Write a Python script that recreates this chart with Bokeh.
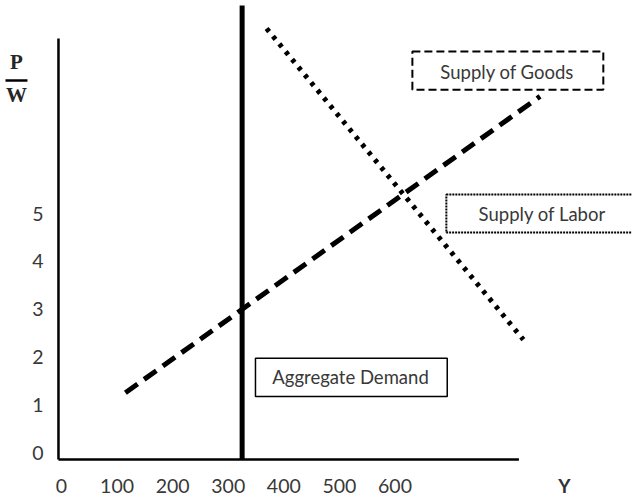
from bokeh.plotting import figure
from bokeh.models import Range1d, FixedTicker, Label, BoxAnnotation
from bokeh.embed import file_html
from bokeh.resources import INLINE

# ---- data ----
x_ticks = [0, 100, 200, 300, 400, 500, 600]
y_ticks = [0, 1, 2, 3, 4, 5]

# Aggregate Demand (vertical)
ad_x = [325, 325]
ad_y = [-0.146, 9.35]
# Supply of Goods (dashed, upward)
goods_x = [115, 861]
goods_y = [1.25, 7.45]
# Supply of Labor (dotted, downward)
labor_x = [369, 831]
labor_y = [8.87, 2.36]

# axis extents (hand-drawn axes)
yaxis_x = [-5.4, -5.4]
yaxis_y = [-0.146, 8.66]
xaxis_x = [-5.4, 823]
xaxis_y = [-0.146, -0.146]

TXT = "#383838"
FONT = "Lato"

p = figure(width=632, height=499, output_backend="svg", toolbar_location=None,
           x_range=Range1d(-109.7, 1027.3), y_range=Range1d(-0.983, 9.456),
           min_border_left=0, min_border_right=0, min_border_top=0, min_border_bottom=0,
           outline_line_color=None)
p.grid.visible = False
p.background_fill_color = "white"
p.border_fill_color = "white"

for ax in (p.xaxis[0], p.yaxis[0]):
    ax.axis_line_color = None
    ax.major_tick_line_color = None
    ax.minor_tick_line_color = None
    ax.major_tick_out = 0
    ax.major_tick_in = 0
    ax.major_label_text_font = FONT
    ax.major_label_text_font_size = "19.5px"
    ax.major_label_text_color = TXT

p.xaxis[0].ticker = FixedTicker(ticks=x_ticks)
p.yaxis[0].ticker = FixedTicker(ticks=y_ticks)
p.xaxis[0].fixed_location = -0.146
p.yaxis[0].fixed_location = -5.4
p.xaxis[0].major_label_standoff = 20
p.yaxis[0].major_label_standoff = 15

# axes lines
p.line(yaxis_x, yaxis_y, line_color="black", line_width=2.5)
p.line(xaxis_x, xaxis_y, line_color="black", line_width=2.5)

# curves
p.line(ad_x, ad_y, line_color="black", line_width=5)
p.line(goods_x, goods_y, line_color="black", line_width=5, line_dash="15 8", line_cap="butt")
p.line(labor_x, labor_y, line_color="black", line_width=5, line_dash="4 6", line_cap="butt")

# label boxes
p.add_layout(BoxAnnotation(left=631.3, right=974.8, bottom=7.59, top=8.39,
                           fill_color="white", fill_alpha=1, line_color="black", line_alpha=1,
                           line_width=2, line_dash="8 4"))
p.add_layout(BoxAnnotation(left=692.4, right=1059, bottom=4.60, top=5.40,
                           fill_color="white", fill_alpha=1, line_color="black", line_alpha=1,
                           line_width=2, line_dash="2 1"))
p.add_layout(BoxAnnotation(left=349, right=694, bottom=1.17, top=1.97,
                           fill_color="white", fill_alpha=1, line_color="black", line_alpha=1,
                           line_width=1.5))

for txt, x, y in [("Supply of Goods", 802, 7.97),
                  ("Supply of Labor", 865, 5.0),
                  ("Aggregate Demand", 520, 1.57)]:
    p.add_layout(Label(x=x, y=y, text=txt, text_align="center", text_baseline="middle",
                       text_font=FONT, text_font_size="18.5px", text_color=TXT))

# P / W axis title
p.add_layout(Label(x=-81, y=8.16, text="P", text_align="center", text_baseline="middle",
                   text_font="Liberation Serif", text_font_style="bold",
                   text_font_size="21px", text_color="#262626"))
p.add_layout(Label(x=-81, y=7.47, text="W", text_align="center", text_baseline="middle",
                   text_font="Liberation Serif", text_font_style="bold",
                   text_font_size="21px", text_color="#262626"))
p.line([-100.7, -61.2], [7.78, 7.78], line_color="black", line_width=2.5)

# Y axis title
p.add_layout(Label(x=904.7, y=-0.69, text="Y", text_align="center", text_baseline="middle",
                   text_font=FONT, text_font_style="bold",
                   text_font_size="19px", text_color="#333333"))

open("out.html", "w").write(file_html(p, INLINE))
